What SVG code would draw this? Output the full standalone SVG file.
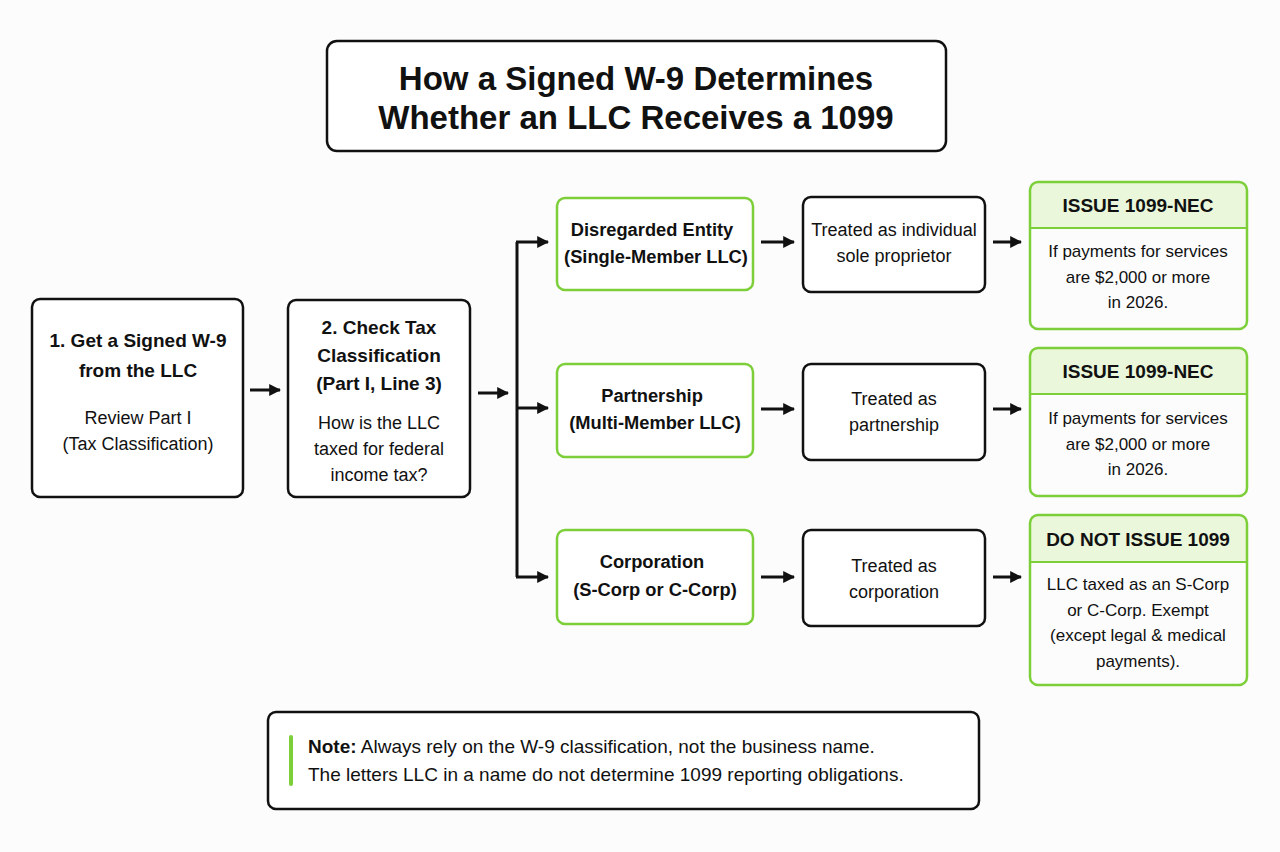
<svg xmlns="http://www.w3.org/2000/svg" width="1280" height="852" viewBox="0 0 1280 852">
<defs>
<style>
.box{fill:#fff;stroke:#111;stroke-width:2.5}
.gbox{fill:#fff;stroke:#7dcf3a;stroke-width:2.5}
.hdr{fill:#eaf7da}
.t{font-family:"Liberation Sans",Arial,sans-serif;fill:#111;text-anchor:middle}
.r{font-size:17px}
.r18{font-size:18px}
.bb{font-size:19px;font-weight:bold}
.gb{font-size:18.3px;font-weight:bold}
.ttl{font-size:33px;font-weight:bold}
.ln{stroke:#111;stroke-width:3;fill:none}
</style>
<marker id="ah" viewBox="0 0 10 10" refX="9" refY="5" markerWidth="4" markerHeight="4" orient="auto" markerUnits="strokeWidth">
<path d="M0,0 L10,5 L0,10 z" fill="#111"/>
</marker>
</defs>
<rect width="1280" height="852" fill="#fcfcfc"/>

<g id="title">
<rect class="box" x="327" y="41" width="619" height="110" rx="10"/>
<text class="t ttl" x="636" y="90">How a Signed W-9 Determines</text>
<text class="t ttl" x="636" y="129">Whether an LLC Receives a 1099</text>
</g>

<g id="step1">
<rect class="box" x="32" y="299" width="211" height="198" rx="8"/>
<text class="t bb" x="138" y="347">1. Get a Signed W-9</text>
<text class="t bb" x="138" y="377">from the LLC</text>
<text class="t r18" x="138" y="424">Review Part I</text>
<text class="t r18" x="138" y="450">(Tax Classification)</text>
</g>

<g id="step2">
<rect class="box" x="288" y="300" width="182" height="197" rx="8"/>
<text class="t bb" x="379" y="334">2. Check Tax</text>
<text class="t bb" x="379" y="362">Classification</text>
<text class="t bb" x="379" y="390">(Part I, Line 3)</text>
<text class="t r18" x="379" y="429">How is the LLC</text>
<text class="t r18" x="379" y="455">taxed for federal</text>
<text class="t r18" x="379" y="481">income tax?</text>
</g>

<g id="disregarded">
<rect class="gbox" x="557" y="198" width="196" height="92" rx="8"/>
<text class="t gb" x="652" y="236">Disregarded Entity</text>
<text class="t gb" x="656" y="263">(Single-Member LLC)</text>
</g>
<g id="partnership">
<rect class="gbox" x="557" y="364" width="196" height="93" rx="8"/>
<text class="t gb" x="652" y="402">Partnership</text>
<text class="t gb" x="655" y="429">(Multi-Member LLC)</text>
</g>
<g id="corporation">
<rect class="gbox" x="557" y="530" width="196" height="94" rx="8"/>
<text class="t gb" x="652" y="568">Corporation</text>
<text class="t gb" x="655" y="596">(S-Corp or C-Corp)</text>
</g>

<g id="treated1">
<rect class="box" x="803" y="197" width="182" height="95" rx="8"/>
<text class="t r18" x="894" y="236">Treated as individual</text>
<text class="t r18" x="894" y="262">sole proprietor</text>
</g>
<g id="treated2">
<rect class="box" x="803" y="364" width="182" height="96" rx="8"/>
<text class="t r18" x="894" y="405">Treated as</text>
<text class="t r18" x="894" y="431">partnership</text>
</g>
<g id="treated3">
<rect class="box" x="803" y="530" width="182" height="96" rx="8"/>
<text class="t r18" x="894" y="572">Treated as</text>
<text class="t r18" x="894" y="598">corporation</text>
</g>

<g id="result1">
<path class="hdr" d="M1030,228 V190 a8,8 0 0 1 8,-8 H1239 a8,8 0 0 1 8,8 V228 z"/>
<line x1="1030" y1="228" x2="1247" y2="228" stroke="#7dcf3a" stroke-width="2"/>
<rect class="gbox" x="1030" y="182" width="217" height="147" rx="8" style="fill:none"/>
<text class="t bb" x="1138" y="212">ISSUE 1099-NEC</text>
<text class="t r" x="1138" y="257">If payments for services</text>
<text class="t r" x="1138" y="283">are $2,000 or more</text>
<text class="t r" x="1138" y="308">in 2026.</text>
</g>
<g id="result2">
<path class="hdr" d="M1030,394 V356 a8,8 0 0 1 8,-8 H1239 a8,8 0 0 1 8,8 V394 z"/>
<line x1="1030" y1="394" x2="1247" y2="394" stroke="#7dcf3a" stroke-width="2"/>
<rect class="gbox" x="1030" y="348" width="217" height="148" rx="8" style="fill:none"/>
<text class="t bb" x="1138" y="378">ISSUE 1099-NEC</text>
<text class="t r" x="1138" y="424">If payments for services</text>
<text class="t r" x="1138" y="450">are $2,000 or more</text>
<text class="t r" x="1138" y="475">in 2026.</text>
</g>
<g id="result3">
<path class="hdr" d="M1030,562 V523 a8,8 0 0 1 8,-8 H1239 a8,8 0 0 1 8,8 V562 z"/>
<line x1="1030" y1="562" x2="1247" y2="562" stroke="#7dcf3a" stroke-width="2"/>
<rect class="gbox" x="1030" y="515" width="217" height="170" rx="8" style="fill:none"/>
<text class="t bb" x="1138" y="546">DO NOT ISSUE 1099</text>
<text class="t r" x="1138" y="590">LLC taxed as an S-Corp</text>
<text class="t r" x="1138" y="616">or C-Corp. Exempt</text>
<text class="t r" x="1138" y="641">(except legal &amp; medical</text>
<text class="t r" x="1138" y="667">payments).</text>
</g>

<g id="note">
<rect class="box" x="268" y="712" width="711" height="97" rx="8"/>
<rect x="289" y="735" width="4" height="51" rx="2" fill="#7dcf3a"/>
<text x="308" y="753" font-family="'Liberation Sans',Arial,sans-serif" font-size="19" fill="#111"><tspan font-weight="bold">Note:</tspan> Always rely on the W-9 classification, not the business name.</text>
<text x="308" y="781" font-family="'Liberation Sans',Arial,sans-serif" font-size="19" fill="#111">The letters LLC in a name do not determine 1099 reporting obligations.</text>
</g>

<g id="connectors">
<line class="ln" x1="250" y1="390" x2="280" y2="390" marker-end="url(#ah)"/>
<line class="ln" x1="478" y1="393" x2="508" y2="393" marker-end="url(#ah)"/>
<path class="ln" d="M517,577 V242"/>
<line class="ln" x1="516" y1="242" x2="548" y2="242" marker-end="url(#ah)"/>
<line class="ln" x1="517" y1="408" x2="548" y2="408" marker-end="url(#ah)"/>
<line class="ln" x1="516" y1="577" x2="548" y2="577" marker-end="url(#ah)"/>
<line class="ln" x1="761" y1="242" x2="794" y2="242" marker-end="url(#ah)"/>
<line class="ln" x1="761" y1="409" x2="794" y2="409" marker-end="url(#ah)"/>
<line class="ln" x1="761" y1="577" x2="794" y2="577" marker-end="url(#ah)"/>
<line class="ln" x1="993" y1="242" x2="1021" y2="242" marker-end="url(#ah)"/>
<line class="ln" x1="993" y1="409" x2="1021" y2="409" marker-end="url(#ah)"/>
<line class="ln" x1="993" y1="577" x2="1021" y2="577" marker-end="url(#ah)"/>
</g>
</svg>
